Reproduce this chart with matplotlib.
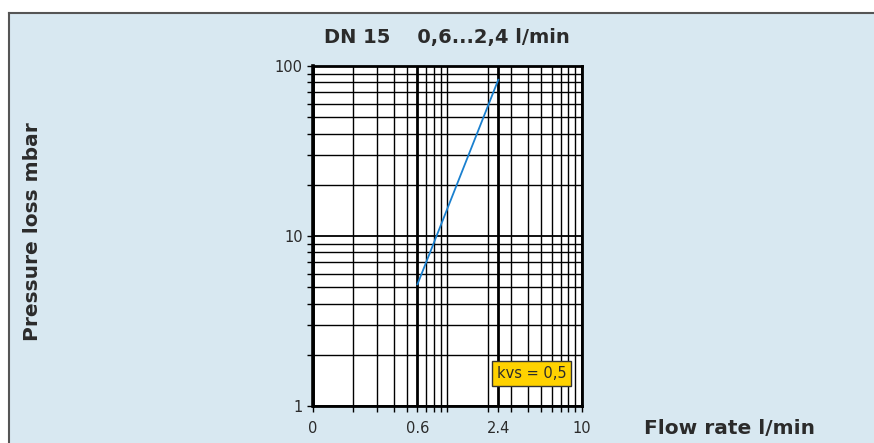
import numpy as np
import matplotlib.pyplot as plt
from matplotlib.ticker import LogLocator, NullFormatter, FixedLocator, FixedFormatter
from matplotlib.patches import Rectangle
from matplotlib.lines import Line2D

# curve for kvs = 0,5
flow = [0.6, 2.4]          # l/min
pressure = [5.2, 83.0]     # mbar

x_ticks = [0.1, 0.6, 2.4, 10]
x_labels = ['0', '0.6', '2.4', '10']
y_ticks = [1, 10, 100]
y_labels = ['1', '10', '100']

bg = '#d8e8f1'
txt = '#2b2b2b'

fig = plt.figure(figsize=(8.74, 4.43), dpi=100)
fig.patch.set_facecolor('white')

# light blue panel with grey top/left border
W, H = 874, 443
fig.patches.append(Rectangle((9 / W, 0), 1, (H - 13) / H, transform=fig.transFigure,
                             facecolor=bg, edgecolor='none', zorder=-10))
fig.lines.append(Line2D([9 / W, 1], [(H - 13) / H] * 2, transform=fig.transFigure,
                        color='#555555', lw=1.5))
fig.lines.append(Line2D([9 / W, 9 / W], [0, (H - 13) / H], transform=fig.transFigure,
                        color='#555555', lw=1.5))

ax = fig.add_axes([313 / W, (H - 406) / H, (581.5 - 313) / W, (406 - 66) / H])
ax.set_facecolor('white')
ax.set_xscale('log')
ax.set_yscale('log')
ax.set_xlim(0.1, 10)
ax.set_ylim(1, 100)

ax.xaxis.set_major_locator(FixedLocator(x_ticks))
ax.xaxis.set_major_formatter(FixedFormatter(x_labels))
ax.xaxis.set_minor_locator(LogLocator(base=10, subs=np.arange(1, 10), numticks=20))
ax.xaxis.set_minor_formatter(NullFormatter())
ax.yaxis.set_major_locator(FixedLocator(y_ticks))
ax.yaxis.set_major_formatter(FixedFormatter(y_labels))
ax.yaxis.set_minor_locator(LogLocator(base=10, subs=np.arange(2, 10), numticks=20))
ax.yaxis.set_minor_formatter(NullFormatter())

ax.grid(which='minor', color='black', lw=1.0)
ax.grid(which='major', axis='x', color='black', lw=2.0)
ax.grid(which='major', axis='y', color='black', lw=1.3)
ax.set_axisbelow(True)

ax.tick_params(which='both', direction='out', length=4, width=1, colors='black',
               labelsize=10.5, labelcolor=txt, top=False, right=False)
ax.tick_params(axis='x', pad=7)
for s in ax.spines.values():
    s.set_linewidth(2)
    s.set_color('black')
ax.spines['left'].set_linewidth(2.6)

ax.plot(flow, pressure, color='#1a80cf', lw=1.3, zorder=3)

ax.text(0.814, 0.096, 'kvs = 0,5', transform=ax.transAxes, ha='center', va='center',
        fontsize=10.5, color=txt,
        bbox=dict(boxstyle='square,pad=0.32', facecolor='#ffd200', edgecolor='#333333', lw=1))

fig.text(447 / W, 1 - 37 / H, 'DN 15    0,6...2,4 l/min', ha='center', va='center',
         fontsize=14, fontweight='bold', color=txt)
fig.text(729 / W, 1 - 428 / H, 'Flow rate l/min', ha='center', va='center',
         fontsize=14.5, fontweight='bold', color=txt)
fig.text(33 / W, 1 - 232 / H, 'Pressure loss mbar', ha='center', va='center',
         rotation=90, fontsize=14.5, fontweight='bold', color=txt)

fig.savefig('out.png', dpi=100, facecolor=fig.get_facecolor())
